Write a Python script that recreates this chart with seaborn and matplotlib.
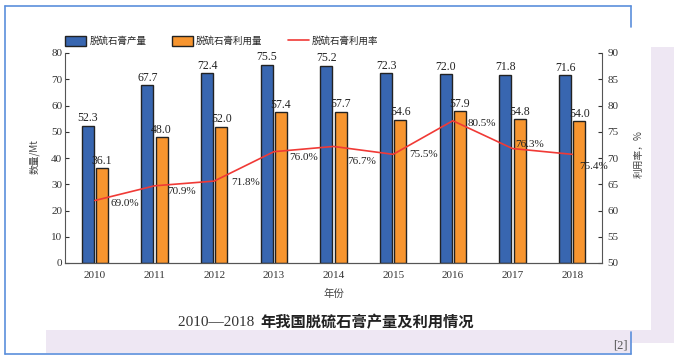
import numpy as np
import pandas as pd
import matplotlib
matplotlib.use("Agg")
import matplotlib.pyplot as plt
from matplotlib.patches import Patch, Rectangle
from matplotlib.lines import Line2D
import seaborn as sns

years = ["2010", "2011", "2012", "2013", "2014", "2015", "2016", "2017", "2018"]
production = [52.3, 67.7, 72.4, 75.5, 75.2, 72.3, 72.0, 71.8, 71.6]
utilization = [36.1, 48.0, 52.0, 57.4, 57.7, 54.6, 57.9, 54.8, 54.0]
# line as drawn in the picture (read on the right axis) and its printed labels
rate_drawn = [61.9, 64.7, 65.6, 71.2, 72.2, 70.7, 77.1, 71.8, 70.7]
rate_labels = ["69.0%", "70.9%", "71.8%", "76.0%", "76.7%", "75.5%", "80.5%", "76.3%", "75.4%"]
series_names = ["脱硫石膏产量", "脱硫石膏利用量", "脱硫石膏利用率"]

sns.set_style("ticks")
serif = ["Liberation Serif", "Noto Sans CJK SC"]
cjk = ["Noto Sans CJK SC", "DejaVu Sans"]
plt.rcParams["font.family"] = serif

blue, orange, red = "#3866B0", "#F7952F", "#F03A36"
lavender = "#EEE7F3"
frame_blue = "#5B8FDB"

df = pd.DataFrame({
    "year": years * 2,
    "value": production + utilization,
    "series": [series_names[0]] * 9 + [series_names[1]] * 9,
})

fig = plt.figure(figsize=(6.74, 3.61), dpi=100)

# page decorations
fig.add_artist(Rectangle((651 / 674, 1 - 343 / 361), 23 / 674, 296 / 361,
                         transform=fig.transFigure, color=lavender, lw=0, zorder=0))
fig.add_artist(Rectangle((46 / 674, 1 - 343 / 361), 628 / 674, 13 / 361,
                         transform=fig.transFigure, color=lavender, lw=0, zorder=0))
fig.add_artist(Rectangle((46 / 674, 1 - 353 / 361), 585 / 674, 10 / 361,
                         transform=fig.transFigure, color=lavender, lw=0, zorder=0))
def fline(xs, ys):
    fig.add_artist(Line2D([x / 674 for x in xs], [1 - y / 361 for y in ys],
                          transform=fig.transFigure, color=frame_blue, lw=1.2))
fline([5, 631], [6, 6])
fline([5, 5], [6, 354])
fline([5, 631], [354, 354])
fline([631, 631], [6, 27])
fline([631, 631], [332, 354])

ax = fig.add_axes([65 / 674, 1 - 263 / 361, 537 / 674, 210 / 361])
sns.barplot(data=df, x="year", y="value", hue="series", palette=[blue, orange],
            width=0.48, gap=0.17, saturation=1, edgecolor="#222222", linewidth=1,
            ax=ax, legend=False)
ax.set_xlim(-0.5, 8.5)
ax.set_ylim(0, 80)
ax.set_yticks(range(0, 81, 10))
for cont in ax.containers:
    ax.bar_label(cont, fmt="%.1f", padding=1, fontsize=8.5, color="#222222")

ax2 = ax.twinx()
sns.lineplot(x=np.arange(len(years)), y=rate_drawn, color=red, linewidth=1.2, ax=ax2)
ax2.set_ylim(50, 90)
ax2.set_yticks(range(50, 91, 5))
offsets = [(16, 3), (13, 6), (17, 1), (15, 6), (14, 15), (16, 0), (15, 3), (3, -4), (7, 12)]
for i, (lab, off) in enumerate(zip(rate_labels, offsets)):
    ax2.annotate(lab, (i, rate_drawn[i]), xytext=(off[0], -off[1]),
                 textcoords="offset pixels", ha="left", va="center",
                 fontsize=8, color="#222222")

for a in (ax, ax2):
    a.spines["top"].set_visible(False)
    for s in a.spines.values():
        s.set_color("#555555")
        s.set_linewidth(0.8)
    a.set_facecolor("none")
ax.spines["right"].set_visible(False)
ax2.spines["left"].set_visible(False)
ax.tick_params(axis="y", direction="in", length=3, labelsize=8, colors="#333333", pad=2)
ax.tick_params(axis="x", length=0, labelsize=8, colors="#333333", pad=6)
ax2.tick_params(axis="y", direction="in", length=3, labelsize=8, colors="#333333", pad=4)

ax.set_xlabel("年份", family=cjk, fontsize=7.5, color="#444444", labelpad=6)
ax.set_ylabel("数量/Mt", family=cjk, fontsize=7, color="#444444")
ax.yaxis.set_label_coords(-0.047, 0.505)
ax2.set_ylabel("利用率，%", family=cjk, fontsize=7, color="#444444")
ax2.yaxis.set_label_coords(1.058, 0.52)

handles = [Patch(facecolor=blue, edgecolor="#222222", linewidth=1),
           Patch(facecolor=orange, edgecolor="#222222", linewidth=1),
           Line2D([], [], color=red, linewidth=1.2)]
fig.legend(handles, series_names, loc="center", bbox_to_anchor=(222 / 674, 1 - 41 / 361),
           ncol=3, frameon=False, prop={"family": cjk, "size": 6.8},
           handlelength=2.2, handleheight=1.3, columnspacing=2.7, handletextpad=0.35)

fig.text(258 / 674, 1 - 322 / 361, "2010—2018 ", ha="right", va="center",
         fontsize=11, color="#333333")
fig.text(260 / 674, 1 - 322 / 361, "年我国脱硫石膏产量及利用情况", ha="left", va="center",
         fontsize=11, fontweight="bold", family=cjk, color="#222222")
fig.text(620 / 674, 1 - 346 / 361, "[2]", ha="center", va="center", fontsize=9,
         color="#555555")

fig.savefig("out.png", dpi=100)
